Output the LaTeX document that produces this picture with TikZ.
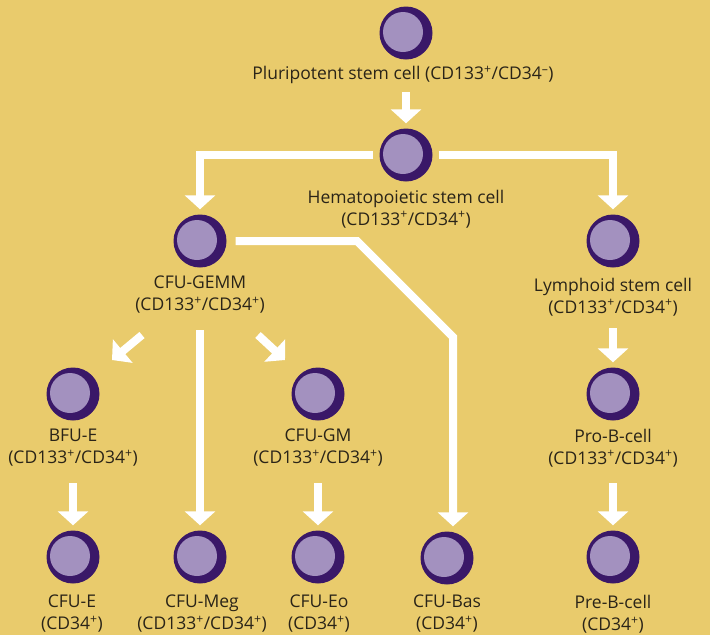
\documentclass[tikz,border=0pt]{standalone}
\usepackage{fontspec}
\setmainfont{Open Sans}
\usepackage{xcolor}
\usetikzlibrary{arrows.meta}

\definecolor{bgyellow}{HTML}{E9CB6C}
\definecolor{cellrim}{HTML}{3A1868}
\definecolor{cellcore}{HTML}{A391BF}
\definecolor{labeltext}{HTML}{2A2418}
\newcommand{\pos}{\textsuperscript{+}}
\newcommand{\cdboth}{(CD133\pos/CD34\pos)}

\begin{document}
\begin{tikzpicture}[x=1pt,y=-1pt,
    cell/.style={circle,fill=cellrim,minimum size=53pt,inner sep=0pt,
      path picture={\fill[cellcore] ([xshift=-3pt,yshift=1pt]path picture bounding box.center) circle (20pt);}},
    lbl/.style={text=labeltext,align=center,font=\fontsize{17.5}{22}\selectfont},
    flow/.style={white,line width=8pt,-{Triangle[width=30pt,length=14pt]}}]
    \fill[bgyellow] (0,0) rectangle (710,635);

    % stem cells
    \node[cell] (psc) at (406,33) {};
    \node[lbl] (psc-lbl) at (403,75) {Pluripotent stem cell (CD133\pos/CD34\textsuperscript{--})};
    \node[cell] (hsc) at (406,155) {};
    \node[lbl] (hsc-lbl) at (406,209) {Hematopoietic stem cell\\\cdboth};

    % second row
    \node[cell] (gemm) at (200,241) {};
    \node[lbl] (gemm-lbl) at (200,295) {CFU-GEMM\\\cdboth};
    \node[cell] (lym) at (613,241) {};
    \node[lbl] (lym-lbl) at (613,297) {Lymphoid stem cell\\\cdboth};

    % third row
    \node[cell] (bfu) at (73,394) {};
    \node[lbl] (bfu-lbl) at (73,448) {BFU-E\\\cdboth};
    \node[cell] (gm) at (318,394) {};
    \node[lbl] (gm-lbl) at (318,448) {CFU-GM\\\cdboth};
    \node[cell] (prob) at (613,394) {};
    \node[lbl] (prob-lbl) at (613,448) {Pro-B-cell\\\cdboth};

    % bottom row
    \node[cell] (cfue) at (73,557) {};
    \node[lbl] (cfue-lbl) at (72,614) {CFU-E\\(CD34\pos)};
    \node[cell] (meg) at (200,557) {};
    \node[lbl] (meg-lbl) at (202,614) {CFU-Meg\\\cdboth};
    \node[cell] (eo) at (318,557) {};
    \node[lbl] (eo-lbl) at (319,614) {CFU-Eo\\(CD34\pos)};
    \node[cell] (bas) at (447,558) {};
    \node[lbl] (bas-lbl) at (447,614) {CFU-Bas\\(CD34\pos)};
    \node[cell] (preb) at (613,557) {};
    \node[lbl] (preb-lbl) at (613,614) {Pre-B-cell\\(CD34\pos)};

    % connectors
    \draw[flow] ([yshift=-59pt]psc.center) -- ([yshift=5pt]hsc.north);
    \draw[flow] ([xshift=-6pt]hsc.west) -| ([yshift=5pt]gemm.north);
    \draw[flow] ([xshift=6pt]hsc.east) -| ([yshift=5pt]lym.north);
    \coordinate (bas-in) at (453,337);
    \draw[flow,shorten >=5pt] ([xshift=9pt]gemm.east) -- ([xshift=-96pt,yshift=96pt]bas-in)
        -- (bas-in) -- (bas-in |- bas.north);
    \draw[flow] ([yshift=-89pt]gemm.center) -- ([yshift=5pt]meg.north);
    \draw[flow] ([shift={(-58pt,-94pt)}]gemm.center) -- ([shift={(39pt,34pt)}]bfu.center);
    \draw[flow] ([shift={(58pt,-94pt)}]gemm.center) -- ([shift={(-33pt,34pt)}]gm.center);
    \draw[flow] ([yshift=-87pt]lym.center) -- ([yshift=5pt]prob.north);
    \draw[flow] ([yshift=-89pt]bfu.center) -- ([yshift=5pt]cfue.north);
    \draw[flow] ([yshift=-89pt]gm.center) -- ([yshift=5pt]eo.north);
    \draw[flow] ([yshift=-89pt]prob.center) -- ([yshift=5pt]preb.north);
\end{tikzpicture}
\end{document}
